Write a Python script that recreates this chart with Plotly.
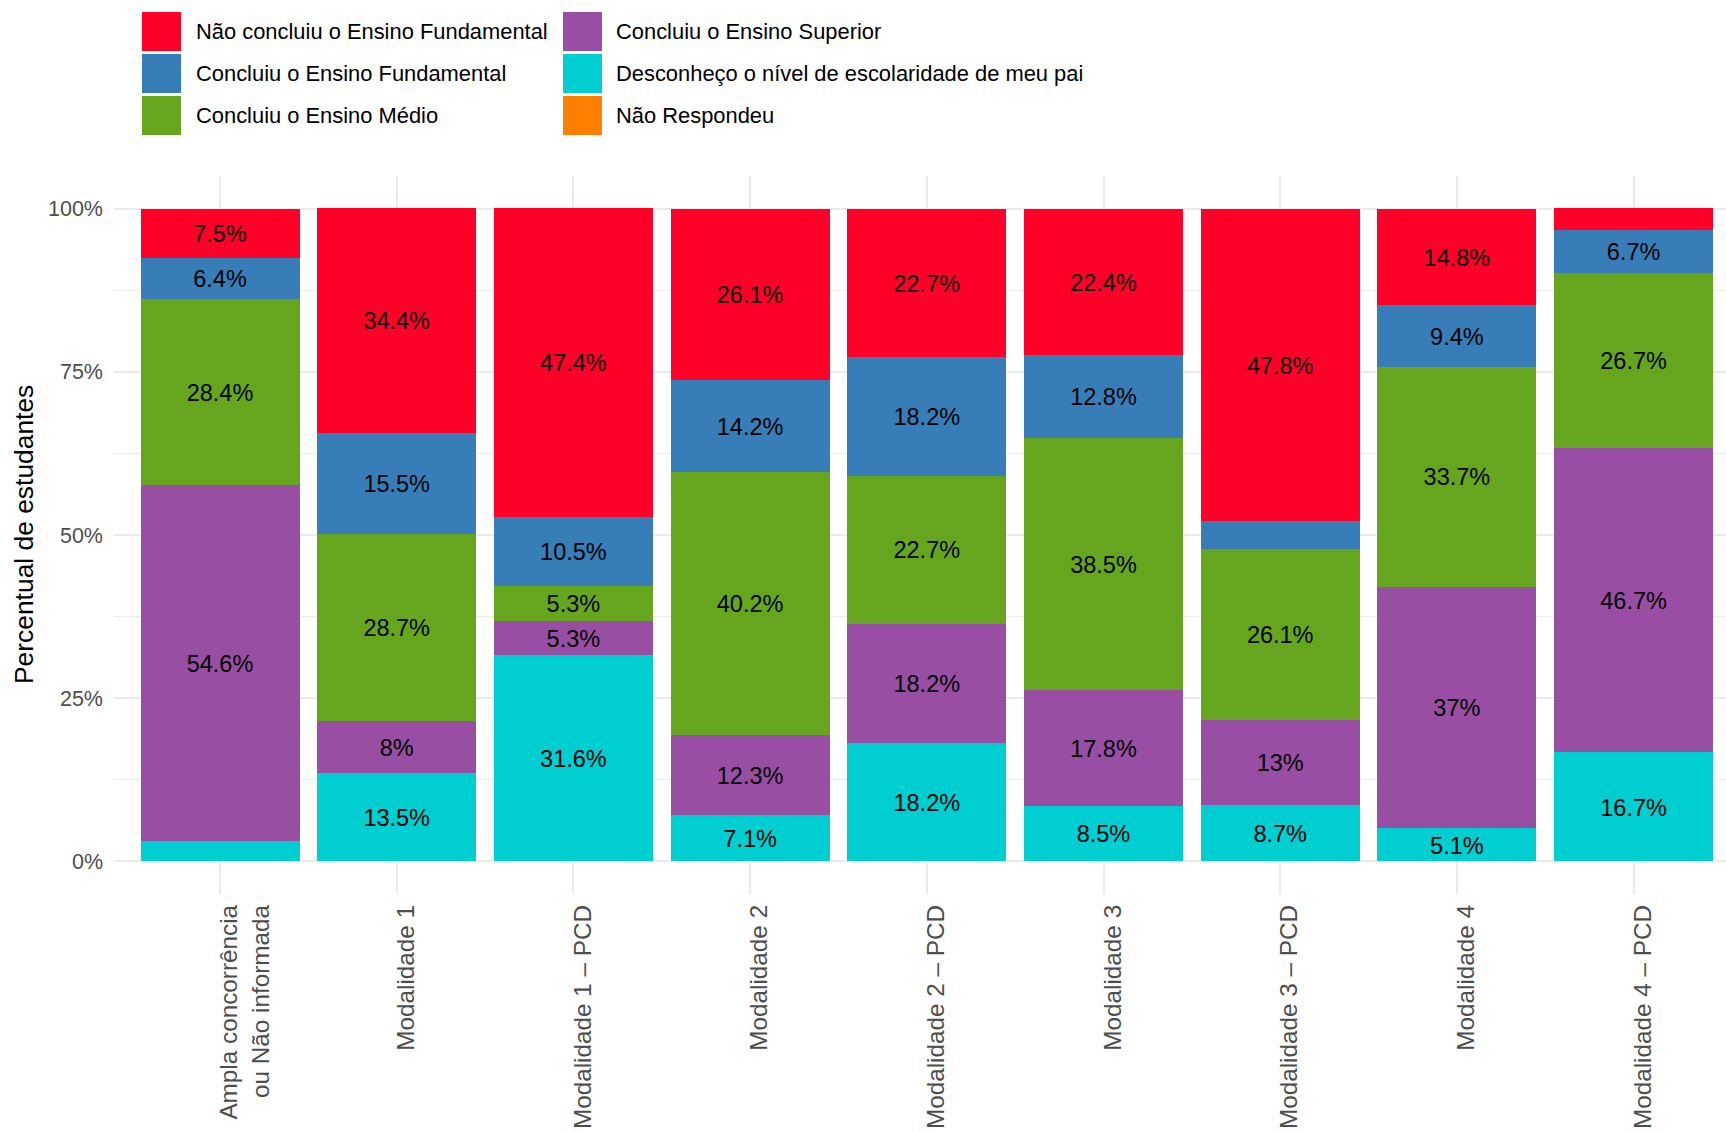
import plotly.graph_objects as go

# categories (x axis)
categories = [
    "Ampla concorrência<br>ou Não informada",
    "Modalidade 1",
    "Modalidade 1 – PCD",
    "Modalidade 2",
    "Modalidade 2 – PCD",
    "Modalidade 3",
    "Modalidade 3 – PCD",
    "Modalidade 4",
    "Modalidade 4 – PCD",
]

# percentages per education level
nao_concluiu_fund = [7.5, 34.4, 47.4, 26.1, 22.7, 22.4, 47.8, 14.8, 3.3]
concluiu_fund = [6.4, 15.5, 10.5, 14.2, 18.2, 12.8, 4.3, 9.4, 6.7]
concluiu_medio = [28.4, 28.7, 5.3, 40.2, 22.7, 38.5, 26.1, 33.7, 26.7]
concluiu_superior = [54.6, 8.0, 5.3, 12.3, 18.2, 17.8, 13.0, 37.0, 46.7]
desconheco = [3.1, 13.5, 31.6, 7.1, 18.2, 8.5, 8.7, 5.1, 16.7]
nao_respondeu = [0, 0, 0, 0, 0, 0, 0, 0, 0]

legend_names = [
    "Não concluiu o Ensino Fundamental",
    "Concluiu o Ensino Fundamental",
    "Concluiu o Ensino Médio",
    "Concluiu o Ensino Superior",
    "Desconheço o nível de escolaridade de meu pai",
    "Não Respondeu",
]
legend_values = [nao_concluiu_fund, concluiu_fund, concluiu_medio,
                 concluiu_superior, desconheco, nao_respondeu]
colors = ["#FF0029", "#377EB8", "#66A61E", "#984EA3", "#00CED1", "#FF7F00"]

y_ticks = [0, 25, 50, 75, 100]
y_tick_labels = ["0%", "25%", "50%", "75%", "100%"]

FONT = "Liberation Sans, Arial, sans-serif"
W, H = 1726, 1132
L, R, T, B = 114, 0, 176, 238

fig = go.Figure()

# stacking from bottom to top
stack_order = [5, 4, 3, 2, 1, 0]
for i in stack_order:
    fig.add_trace(go.Bar(
        x=categories, y=legend_values[i], name=legend_names[i],
        marker=dict(color=colors[i], line=dict(width=0)),
        showlegend=False, hoverinfo="skip",
    ))

# labels in the middle of each segment (only >= 5%)
label_dy = -0.45  # nudge to match ggplot's vertical centring
lx, ly, lt = [], [], []
for j, cat in enumerate(categories):
    base = 0
    for i in stack_order:
        v = legend_values[i][j]
        if v >= 5:
            lx.append(cat)
            ly.append(base + v / 2 + label_dy)
            lt.append(f"{v:g}%")
        base += v
fig.add_trace(go.Scatter(
    x=lx, y=ly, text=lt, mode="text", textposition="middle center",
    textfont=dict(family=FONT, size=23.5, color="black"),
    showlegend=False, hoverinfo="skip",
))

# manual legend (ggplot-style large keys)
pw, ph = W - L - R, H - T - B


def px_x(p):
    return (p - L) / pw


def px_y(p):
    return (H - B - p) / ph


shapes, annotations = [], []
col_box_x = [142, 563]
col_text_x = [194, 614]
row_top = [12, 54, 96]
for k, name in enumerate(legend_names):
    c, r = divmod(k, 3)
    x0 = col_box_x[c]
    y0 = row_top[r]
    shapes.append(dict(
        type="rect", xref="paper", yref="paper",
        x0=px_x(x0), x1=px_x(x0 + 39), y0=px_y(y0 + 39), y1=px_y(y0),
        fillcolor=colors[k], line=dict(width=0),
    ))
    annotations.append(dict(
        xref="paper", yref="paper", x=px_x(col_text_x[c]), y=px_y(y0 + 19.5),
        text=name, showarrow=False, xanchor="left", yanchor="middle",
        font=dict(family=FONT, size=21.9, color="black"),
    ))

# y axis title
annotations.append(dict(
    xref="paper", yref="paper", x=px_x(24), y=0.5, text="Percentual de estudantes",
    textangle=-90, showarrow=False, xanchor="center", yanchor="middle",
    font=dict(family=FONT, size=26.4, color="black"),
))

fig.update_layout(
    barmode="stack",
    bargap=0.1,
    width=W, height=H,
    margin=dict(l=L, r=R, t=T, b=B),
    plot_bgcolor="white",
    paper_bgcolor="white",
    font=dict(family=FONT),
    shapes=shapes,
    annotations=annotations,
)

# ggplot puts the first text line just right of the tick; pad single-line
# labels to two lines so every label block is offset the same way
tick_text = [c if "<br>" in c else c + "<br> " for c in categories]

fig.update_xaxes(
    range=[-0.6, 8.523],
    tickangle=-90,
    tickmode="array", tickvals=categories, ticktext=tick_text,
    tickfont=dict(family=FONT, size=24.3, color="#4D4D4D"),
    showgrid=True, gridcolor="#EBEBEB", gridwidth=2,
    ticks="", showline=False, zeroline=False,
    ticklabelstandoff=5,
    ticklabelshift=25,
)
fig.update_yaxes(
    range=[-5, 105],
    tickvals=y_ticks, ticktext=y_tick_labels,
    tickfont=dict(family=FONT, size=21.5, color="#4D4D4D"),
    showgrid=True, gridcolor="#EBEBEB", gridwidth=2,
    minor=dict(tickvals=[12.5, 37.5, 62.5, 87.5], showgrid=True,
               gridcolor="#EBEBEB", gridwidth=1, ticks=""),
    ticks="", showline=False, zeroline=False,
    ticklabelstandoff=10,
)

fig.write_html(
    "out.html",
    config={"displayModeBar": False},
    post_script="document.body.style.margin='0';document.body.style.overflow='hidden';",
)
